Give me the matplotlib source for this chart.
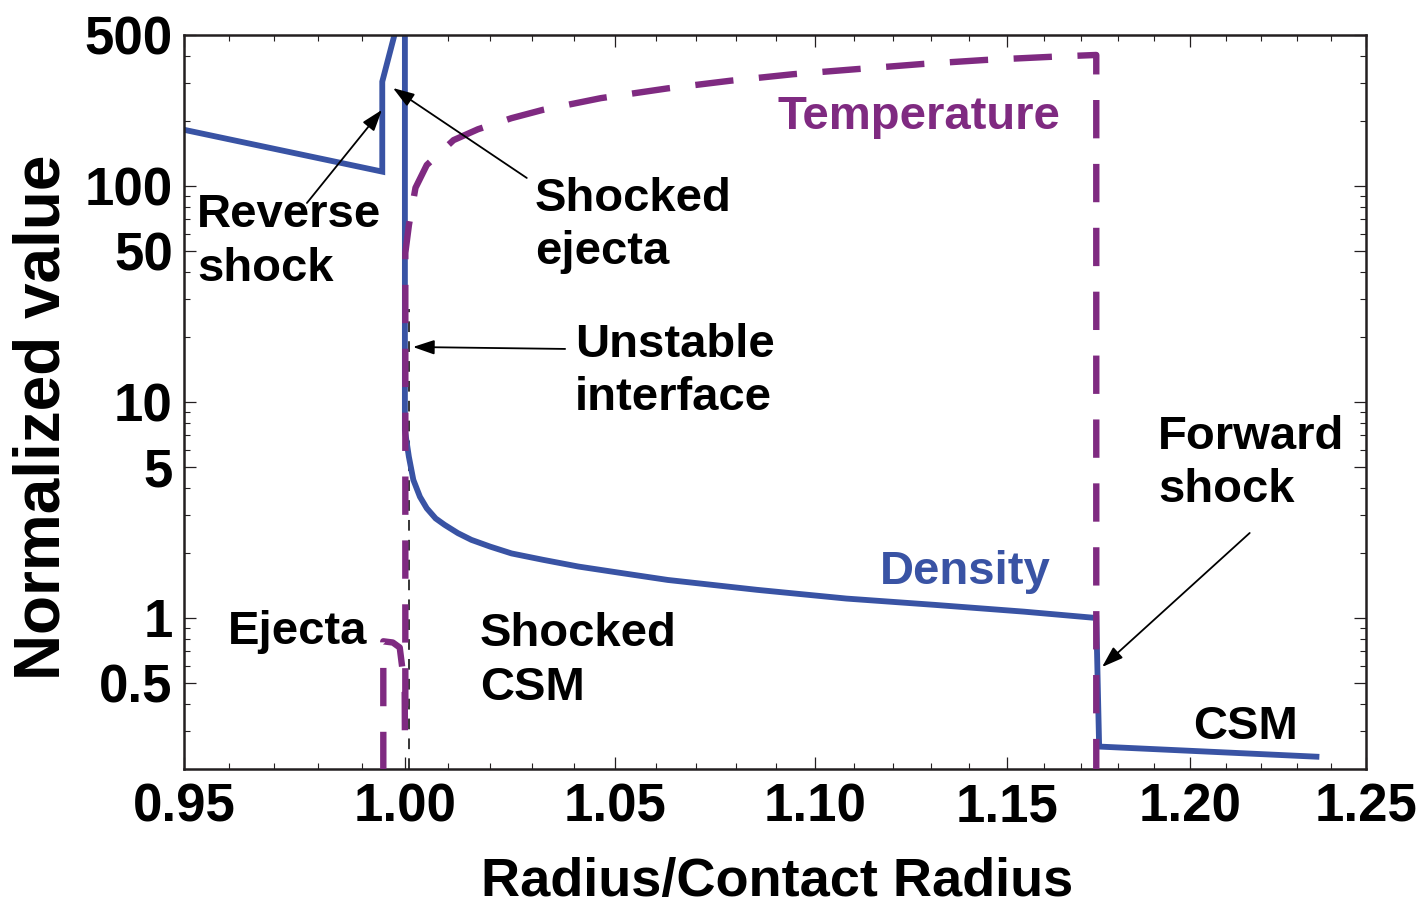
import matplotlib
matplotlib.use("Agg")
import matplotlib.pyplot as plt
from matplotlib.ticker import NullFormatter

plt.rcParams['font.family'] = ['Liberation Sans', 'DejaVu Sans']
plt.rcParams['font.weight'] = 'bold'

# density profile (normalized), radius in units of the contact radius
dens_r = [0.9500, 0.99476, 0.99476, 0.9988, 1.0000, 1.0000, 1.00092, 1.00196,
          1.0035, 1.00509, 1.00716, 1.00925, 1.01239, 1.01555, 1.0200, 1.02507,
          1.03254, 1.04114, 1.0520, 1.06293, 1.08520, 1.10796, 1.13091, 1.15457,
          1.17412, 1.1749, 1.2357]
dens_v = [182, 116.5, 304, 620, 620, 7.4, 5.58, 4.36,
          3.64, 3.22, 2.89, 2.70, 2.47, 2.30, 2.14, 1.99,
          1.86, 1.73, 1.61, 1.50, 1.35, 1.23, 1.15, 1.07,
          1.00, 0.254, 0.228]

# temperature profile (normalized)
temp_r = [0.9950, 0.9950, 0.9972, 0.9988, 0.99995, 1.0000, 1.0001, 1.0001,
          1.00094, 1.00246, 1.00509, 1.01136, 1.01711, 1.02507, 1.03254, 1.04655,
          1.06293, 1.07851, 1.09426, 1.11027, 1.12768, 1.14419, 1.16302, 1.17412,
          1.17412]
temp_v = [0.1, 0.78, 0.77, 0.73, 0.48, 0.30, 0.30, 49,
          66, 98, 125, 163, 183, 206, 225, 255,
          283, 307, 329, 347, 367, 383, 397, 404,
          0.1]

# position of the unstable interface
iface_r = [1.00094, 1.00094]
iface_v = [0.2, 27]

x_major = [0.95, 1.00, 1.05, 1.10, 1.15, 1.20, 1.25]
x_labels = ["0.95", "1.00", "1.05", "1.10", "1.15", "1.20", "1.25"]
x_minor = [0.96, 0.97, 0.98, 0.99, 1.01, 1.02, 1.03, 1.04, 1.06, 1.07, 1.08, 1.09,
           1.11, 1.12, 1.13, 1.14, 1.16, 1.17, 1.18, 1.19, 1.21, 1.22, 1.23, 1.24]
y_major = [0.5, 1, 5, 10, 50, 100, 500]
y_labels = ["0.5", "1", "5", "10", "50", "100", "500"]
y_minor = [0.2, 0.3, 0.4, 0.6, 0.7, 0.8, 0.9, 2, 3, 4, 6, 7, 8, 9,
           20, 30, 40, 60, 70, 80, 90, 200, 300, 400]

blue = '#3953A4'
purple = '#7F2A81'
frame = '#231F20'

fig = plt.figure(figsize=(14.25, 9.08), dpi=100)
ax = fig.add_axes([0.1291, 0.1531, 0.8295, 0.8084])

ax.plot(iface_r, iface_v, color='black', lw=1.1, dashes=(7, 6), zorder=1)
ax.plot(dens_r, dens_v, color=blue, lw=4.2, solid_joinstyle='miter', zorder=2)
tline, = ax.plot(temp_r, temp_v, color=purple, lw=4.6, zorder=3)
tline.set_dashes((6.0, 4.0))

ax.set_xscale('log')
ax.set_yscale('log')
ax.set_xlim(0.95, 1.25)
ax.set_ylim(0.2, 500)

ax.set_xticks(x_major, x_labels)
ax.set_xticks(x_minor, minor=True)
ax.set_yticks(y_major, y_labels)
ax.set_yticks(y_minor, minor=True)
ax.xaxis.set_minor_formatter(NullFormatter())
ax.yaxis.set_minor_formatter(NullFormatter())

ax.tick_params(which='both', direction='in', top=True, right=True, color=frame)
ax.tick_params(which='major', length=8.5, width=0.9)
ax.tick_params(which='minor', length=4.3, width=0.8)
ax.tick_params(axis='x', which='major', labelsize=38, pad=10)
ax.tick_params(axis='y', which='major', labelsize=38, pad=8)
for s in ax.spines.values():
    s.set_linewidth(1.8)
    s.set_color(frame)

ax.set_xlabel('Radius/Contact Radius', fontsize=39, fontweight='bold', va='center')
ax.xaxis.set_label_coords(0.5017, -0.154)
ax.set_ylabel('Normalized value', fontsize=46, fontweight='bold', va='center')
ax.yaxis.set_label_coords(-0.12, 0.479)

# region and feature labels
lab = dict(fontsize=34, fontweight='bold', ha='left', va='center',
           transform=ax.transAxes, linespacing=1.27)
ax.text(0.011, 0.718, 'Reverse\nshock', **lab)
ax.text(0.297, 0.740, 'Shocked\nejecta', **lab)
ax.text(0.331, 0.5416, 'Unstable\ninterface', **lab)
ax.text(0.824, 0.416, 'Forward\nshock', **lab)
ax.text(0.0372, 0.1866, 'Ejecta', **lab)
ax.text(0.2504, 0.147, 'Shocked\nCSM', **lab)
ax.text(0.8536, 0.0572, 'CSM', **lab)
ax.text(0.5025, 0.888, 'Temperature', color=purple, **lab)
ax.text(0.5888, 0.268, 'Density', color=blue, **lab)

arrow = dict(arrowstyle='-|>,head_length=0.65,head_width=0.22', color='black',
             lw=1.3, shrinkA=0, shrinkB=0, mutation_scale=20)
ax.annotate('', xy=(0.99469, 225), xytext=(0.97751, 83.4), arrowprops=arrow)
ax.annotate('', xy=(0.99724, 284), xytext=(1.0287, 108.9), arrowprops=arrow)
ax.annotate('', xy=(1.00187, 17.97), xytext=(1.0379, 17.6), arrowprops=arrow)
ax.annotate('', xy=(1.1757, 0.593), xytext=(1.2167, 2.475), arrowprops=arrow)

fig.savefig('out.png', dpi=100)
